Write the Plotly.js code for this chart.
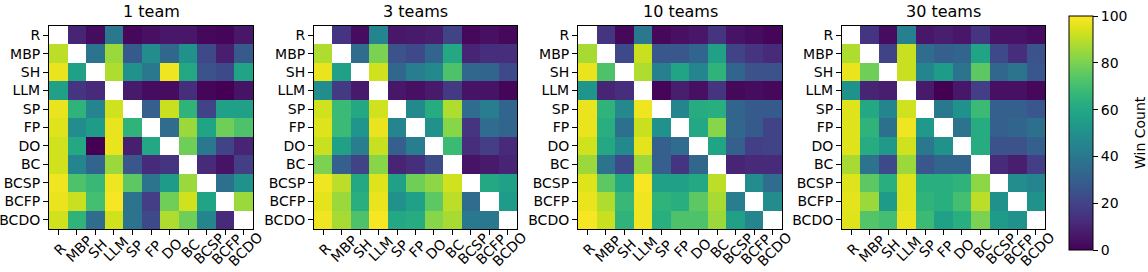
<!DOCTYPE html>
<html>
<head>
<meta charset="utf-8">
<script src="https://cdn.plot.ly/plotly-3.0.1.min.js"></script>
<style>html,body{margin:0;padding:0;background:#fff;}#chart{width:1148px;height:272px;}</style>
</head>
<body>
<div id="chart"></div>
<script>
const labels = ["R","MBP","SH","LLM","SP","FP","DO","BC","BCSP","BCFP","BCDO"];
const titles = ["1 team","3 teams","10 teams","30 teams"];
const colorbarTitle = "Win Count";

const team1 = [
  [null,10,3,40,2,4,6,6,2,1,6],
  [90,null,38,85,28,48,33,50,22,8,28],
  [97,57,null,88,50,40,98,60,25,22,58],
  [57,15,12,null,7,3,3,13,1,0,5],
  [97,65,45,93,null,30,92,65,20,57,57],
  [95,48,55,97,65,null,35,85,58,78,72],
  [93,60,0,97,8,60,null,78,40,20,10],
  [93,45,32,85,27,12,15,null,12,5,18],
  [98,72,67,98,75,38,55,85,null,37,50],
  [97,92,70,99,38,18,78,93,58,null,85],
  [93,65,35,93,38,22,88,78,45,12,null]
];
const team3 = [
  [null,15,3,45,6,7,8,20,2,4,2],
  [88,null,35,80,25,22,32,60,10,13,13],
  [97,57,null,93,33,42,47,72,33,32,22],
  [48,17,7,null,6,4,7,17,5,5,1],
  [93,68,60,93,null,47,62,88,35,42,32],
  [95,68,52,97,45,null,50,82,15,35,32],
  [92,57,42,92,30,42,null,68,13,18,12],
  [80,30,20,82,10,13,23,null,5,7,10],
  [98,90,60,95,57,78,83,93,null,60,57],
  [96,85,63,97,50,57,75,90,35,null,55],
  [98,87,72,99,60,62,82,87,40,40,null]
];
const team10 = [
  [null,15,2,40,2,4,6,15,5,3,1],
  [87,null,22,92,27,27,32,57,20,15,12],
  [97,72,null,88,43,58,45,65,32,25,25],
  [52,10,13,null,1,8,4,15,2,3,2],
  [97,65,47,98,null,45,62,63,32,28,28],
  [97,63,37,92,50,null,60,82,33,28,20],
  [93,60,47,96,30,35,null,58,30,18,20],
  [85,38,22,85,30,15,33,null,10,12,12],
  [95,75,60,99,57,57,60,90,null,48,35],
  [97,88,67,98,65,63,75,87,42,null,48],
  [99,92,65,98,63,72,72,85,57,45,null]
];
const team30 = [
  [null,15,3,43,6,8,6,15,5,5,3],
  [88,null,20,92,35,30,32,58,22,13,25],
  [97,78,null,92,45,55,38,75,33,38,27],
  [50,10,8,null,7,0,6,18,4,4,2],
  [95,60,45,93,null,40,50,68,30,30,27],
  [95,65,37,98,53,null,38,62,30,32,37],
  [95,62,53,93,40,50,null,62,25,25,30],
  [87,38,22,85,27,32,32,null,12,8,18],
  [95,75,63,95,63,63,65,83,null,48,45],
  [96,85,55,95,65,63,70,90,50,null,50],
  [95,73,70,97,68,57,63,80,55,50,null]
];
const matrices = [team1, team3, team10, team30];

const W = 1148, H = 272;
const xPix = [[49,253],[314,517],[578,782],[842,1045]];
const yTop = 26, yBot = 229;
const FONT = "DejaVu Sans";

const data = [];
const layout = {
  width: W, height: H,
  margin: {l:0, r:0, t:0, b:0},
  paper_bgcolor: "#fff", plot_bgcolor: "#fff",
  font: {family: FONT, size: 14, color: "#000"},
  showlegend: false,
  coloraxis: {
    cmin: 0, cmax: 100,
    colorscale: "Viridis",
    colorbar: {
      x: 1069/W, xanchor: "left",
      y: 1 - ((16+250)/2)/H, yanchor: "middle",
      lenmode: "pixels", len: 234,
      thicknessmode: "pixels", thickness: 24,
      outlinewidth: 1, outlinecolor: "#000",
      ticks: "outside", ticklen: 5, tickcolor: "#000",
      tickvals: [0,20,40,60,80,100],
      tickfont: {family: FONT, size: 14, color: "#000"},
      xpad: 0, ypad: 0
    }
  },
  annotations: [{
    text: colorbarTitle,
    xref: "paper", yref: "paper",
    x: 1140/W, y: 1 - 133/H,
    xanchor: "center", yanchor: "middle",
    textangle: -90, showarrow: false, borderpad: 0,
    font: {family: FONT, size: 14, color: "#000"}
  }]
};

matrices.forEach((m, i) => {
  const ax = i === 0 ? "" : String(i+1);
  data.push({
    type: "heatmap",
    z: m, x: labels, y: labels,
    coloraxis: "coloraxis",
    xaxis: "x" + ax, yaxis: "y" + ax,
    hoverinfo: "skip"
  });
  const common = {
    showline: true, mirror: true, linecolor: "#000", linewidth: 1,
    ticks: "outside", ticklen: 5, tickcolor: "#000",
    showgrid: false, zeroline: false, fixedrange: true,
    tickfont: {family: FONT, size: 14, color: "#000"}
  };
  layout["xaxis" + ax] = Object.assign({}, common, {
    domain: [xPix[i][0]/W, xPix[i][1]/W],
    anchor: "y" + ax,
    type: "category",
    categoryorder: "array", categoryarray: labels,
    showticklabels: false,
    range: [-0.5, 10.5]
  });
  layout["yaxis" + ax] = Object.assign({}, common, {
    domain: [1 - yBot/H, 1 - yTop/H],
    anchor: "x" + ax,
    type: "category",
    categoryorder: "array", categoryarray: labels,
    range: [10.5, -0.5]
  });
  // rotated x tick labels, centred under each tick (as in the reference)
  labels.forEach(lab => {
    layout.annotations.push({
      text: lab,
      xref: "x" + ax, yref: "paper",
      x: lab, y: 1 - 249/H,
      xanchor: "center", yanchor: "middle",
      xshift: 2,
      textangle: -45,
      showarrow: false,
      borderpad: 0,
      font: {family: FONT, size: 14, color: "#000"}
    });
  });
  layout.annotations.push({
    text: titles[i],
    xref: "paper", yref: "paper",
    x: (xPix[i][0] + xPix[i][1]) / 2 / W,
    y: 1 - 12/H,
    xanchor: "center", yanchor: "middle",
    showarrow: false,
    font: {family: FONT, size: 16, color: "#000"}
  });
});

Plotly.newPlot("chart", data, layout, {displayModeBar: false, staticPlot: true});
</script>
</body>
</html>
